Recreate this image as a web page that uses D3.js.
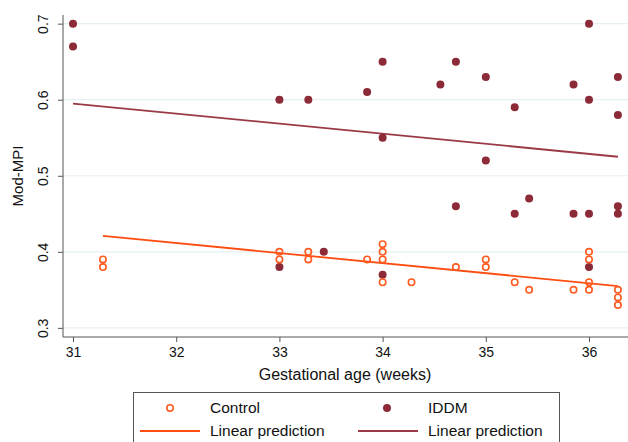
<!DOCTYPE html>
<html>
<head>
<meta charset="utf-8">
<script src="https://cdn.jsdelivr.net/npm/d3@7/dist/d3.min.js"></script>
<style>
	body { margin: 0; background: #fff; }
	svg { display: block; font-family: "Liberation Sans", Arial, sans-serif; }
</style>
</head>
<body>
<div id="chart"></div>
<script>
	// точки группы Control: [неделя, Mod-MPI]
	var controlPts = [
		[31.29,0.39],[31.29,0.38],
		[33,0.40],[33,0.39],
		[33.28,0.40],[33.28,0.39],
		[33.85,0.39],
		[34,0.41],[34,0.40],[34,0.39],[34,0.36],
		[34.28,0.36],
		[34.71,0.38],
		[35,0.39],[35,0.38],
		[35.28,0.36],
		[35.42,0.35],
		[35.85,0.35],
		[36,0.40],[36,0.39],[36,0.36],[36,0.35],
		[36.28,0.35],[36.28,0.34],[36.28,0.33]
	];
	// точки группы IDDM
	var iddmPts = [
		[31,0.70],[31,0.67],
		[33,0.60],[33,0.38],
		[33.28,0.60],
		[33.43,0.40],
		[33.85,0.61],
		[34,0.65],[34,0.55],[34,0.37],
		[34.56,0.62],
		[34.71,0.65],[34.71,0.46],
		[35,0.63],[35,0.52],
		[35.28,0.59],[35.28,0.45],
		[35.42,0.47],
		[35.85,0.62],[35.85,0.45],
		[36,0.70],[36,0.60],[36,0.45],[36,0.38],
		[36.28,0.63],[36.28,0.58],[36.28,0.46],[36.28,0.45]
	];
	// линейные прогнозы (концы линий)
	var controlFit = [[31.29,0.421],[36.28,0.355]];
	var iddmFit = [[31,0.595],[36.28,0.525]];

	var xTicks = [31,32,33,34,35,36];
	var yTicks = [0.3,0.4,0.5,0.6,0.7];

	var W = 628, H = 442;
	var mLeft = 63, mTop = 15, mBottom = 337, mRight = 628;

	var cControl = '#ff5a1f';
	var cIddm = '#8c2a37';
	var cControlLine = '#ff4d12';
	var cIddmLine = '#9a3a46';

	var svg = d3.select('#chart').append('svg')
		.attr('width', W)
		.attr('height', H);

	var x = d3.scaleLinear().domain([30.903, 36.33]).range([mLeft, mLeft + (36.33-30.903)*103.2]);
	var y = d3.scaleLinear().domain([0.288, 0.7114]).range([mBottom, mTop]);

	// сетка
	svg.append('g').selectAll('line')
		.data(yTicks)
		.enter().append('line')
		.attr('x1', mLeft).attr('x2', mRight)
		.attr('y1', function(d){ return y(d); })
		.attr('y2', function(d){ return y(d); })
		.attr('stroke', '#e6f0f2')
		.attr('stroke-width', 1.2);

	// оси
	var xAxis = svg.append('g')
		.attr('transform', 'translate(0,' + mBottom + ')')
		.call(d3.axisBottom(x).tickValues(xTicks).tickSize(5).tickPadding(5).tickFormat(d3.format('d')));
	xAxis.select('.domain').attr('d', 'M' + mLeft + ',0H' + mRight).attr('stroke', '#555');
	xAxis.selectAll('.tick line').attr('stroke', '#555');
	xAxis.selectAll('.tick text').attr('font-size', 14).attr('fill', '#111').attr('font-family', '"Liberation Sans", Arial, sans-serif');

	var yAxis = svg.append('g')
		.attr('transform', 'translate(' + mLeft + ',0)')
		.call(d3.axisLeft(y).tickValues(yTicks).tickSize(5).tickFormat(d3.format('.1f')));
	yAxis.select('.domain').attr('d', 'M0,' + mTop + 'V' + mBottom).attr('stroke', '#555');
	yAxis.selectAll('.tick line').attr('stroke', '#555');
	yAxis.selectAll('.tick text')
		.attr('font-size', 14).attr('fill', '#111')
		.attr('font-family', '"Liberation Sans", Arial, sans-serif')
		.attr('x', null).attr('dy', null)
		.attr('text-anchor', 'middle')
		.attr('transform', 'translate(-15,0) rotate(-90)');

	// подписи осей
	svg.append('text')
		.attr('x', 345).attr('y', 380)
		.attr('text-anchor', 'middle')
		.attr('font-size', 16)
		.attr('fill', '#111')
		.text('Gestational age (weeks)');
	svg.append('text')
		.attr('transform', 'translate(23,176) rotate(-90)')
		.attr('text-anchor', 'middle')
		.attr('font-size', 15)
		.attr('fill', '#111')
		.text('Mod-MPI');

	var line = d3.line()
		.x(function(d){ return x(d[0]); })
		.y(function(d){ return y(d[1]); });

	svg.append('path')
		.datum(iddmFit)
		.attr('d', line)
		.attr('fill', 'none')
		.attr('stroke', cIddmLine)
		.attr('stroke-width', 1.8);

	svg.append('g').selectAll('circle')
		.data(iddmPts)
		.enter().append('circle')
		.attr('cx', function(d){ return x(d[0]); })
		.attr('cy', function(d){ return y(d[1]); })
		.attr('r', 4)
		.attr('fill', cIddm);

	svg.append('path')
		.datum(controlFit)
		.attr('d', line)
		.attr('fill', 'none')
		.attr('stroke', cControlLine)
		.attr('stroke-width', 1.8);

	svg.append('g').selectAll('circle')
		.data(controlPts)
		.enter().append('circle')
		.attr('cx', function(d){ return x(d[0]); })
		.attr('cy', function(d){ return y(d[1]); })
		.attr('r', 3.2)
		.attr('fill', 'none')
		.attr('stroke', cControl)
		.attr('stroke-width', 1.6);

	// легенда
	var lg = svg.append('g');
	lg.append('rect')
		.attr('x', 133.5).attr('y', 392.5)
		.attr('width', 426).attr('height', 60)
		.attr('fill', '#fff')
		.attr('stroke', '#555')
		.attr('stroke-width', 1);

	lg.append('circle').attr('cx', 170).attr('cy', 408).attr('r', 3.2)
		.attr('fill', 'none').attr('stroke', cControl).attr('stroke-width', 1.6);
	lg.append('circle').attr('cx', 387).attr('cy', 408).attr('r', 4).attr('fill', cIddm);
	lg.append('line').attr('x1', 140).attr('x2', 200).attr('y1', 431).attr('y2', 431)
		.attr('stroke', cControlLine).attr('stroke-width', 1.8);
	lg.append('line').attr('x1', 358).attr('x2', 418).attr('y1', 431).attr('y2', 431)
		.attr('stroke', cIddmLine).attr('stroke-width', 1.8);

	var legTexts = [['Control', 210, 413], ['IDDM', 428, 413], ['Linear prediction', 210, 436], ['Linear prediction', 428, 436]];
	lg.selectAll('text.leg')
		.data(legTexts)
		.enter().append('text')
		.attr('class', 'leg')
		.attr('x', function(d){ return d[1]; })
		.attr('y', function(d){ return d[2]; })
		.attr('font-size', 15.5)
		.attr('fill', '#111')
		.text(function(d){ return d[0]; });
</script>
</body>
</html>
